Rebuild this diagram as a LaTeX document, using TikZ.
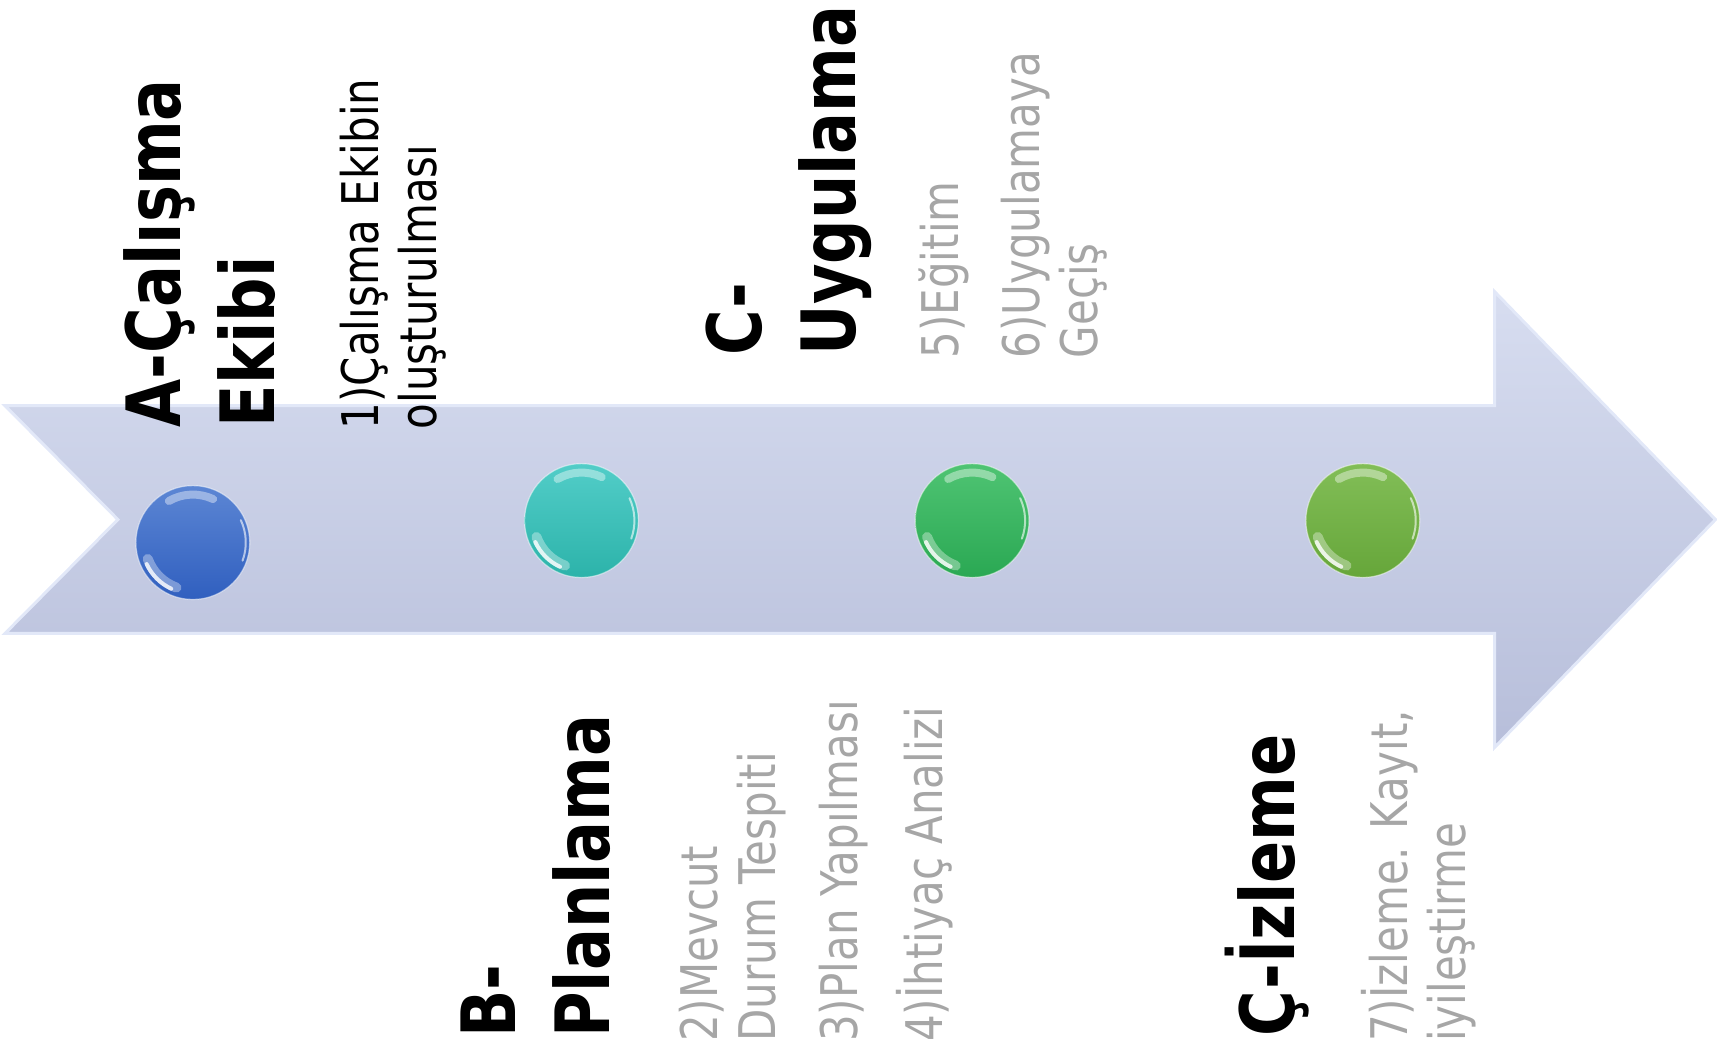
\documentclass[tikz,border=0pt]{standalone}
\usepackage{fontspec}
\setmainfont{DejaVu Sans}[FakeStretch=0.83]
\usepackage{xcolor}
\usepackage{tikz}
\usetikzlibrary{calc,positioning}

\definecolor{arrowtop}{HTML}{D7DDF0}
\definecolor{arrowbot}{HTML}{B7BEDA}
\definecolor{arrowedge}{HTML}{E2E8F8}
\definecolor{taskgray}{HTML}{A6A6A6}
\definecolor{blueTop}{HTML}{5C86D4}
\definecolor{blueBot}{HTML}{305FBF}
\definecolor{tealTop}{HTML}{52CDC8}
\definecolor{tealBot}{HTML}{2CB3AA}
\definecolor{greenTop}{HTML}{4FC473}
\definecolor{greenBot}{HTML}{2AA853}
\definecolor{oliveTop}{HTML}{82BE57}
\definecolor{oliveBot}{HTML}{66A63A}

\begin{document}
\begin{tikzpicture}[
    % GLOBAL CFG
    x=0.5pt, y=-0.5pt,
    % Styles
    phase/.style={% For the bold step titles
        font=\fontsize{37.5pt}{47pt}\selectfont\bfseries,
        rotate=90,
        anchor=north west,
        align=left,
        inner sep=0pt,
        },
    task/.style={% For the numbered tasks
        font=\fontsize{25.3pt}{29pt}\selectfont,
        rotate=90,
        anchor=north west,
        align=left,
        inner sep=0pt,
        text=taskgray,
        },
    dot/.style={% For the glossy buttons on the arrow
        circle,
        minimum size=57pt,
        inner sep=0pt,
        draw=white,
        draw opacity=0.5,
        line width=0.6pt,
        path picture={
            \draw[white, opacity=0.4, line width=4pt, line cap=round]
                ($(path picture bounding box.center)+(65:24pt)$) arc[start angle=65, end angle=120, radius=24pt];
            \draw[white, opacity=0.35, line width=5pt, line cap=round]
                ($(path picture bounding box.center)+(200:24pt)$) arc[start angle=200, end angle=250, radius=24pt];
            \draw[white, opacity=0.8, line width=2pt, line cap=round]
                ($(path picture bounding box.center)+(205:25.5pt)$) arc[start angle=205, end angle=245, radius=25.5pt];
            \draw[white, opacity=0.6, line width=1pt, line cap=round]
                ($(path picture bounding box.center)+(-20:26.5pt)$) arc[start angle=-20, end angle=25, radius=26.5pt];
            },
        },
    ]

    % Draw the big arrow
    \draw[top color=arrowtop, bottom color=arrowbot, draw=arrowedge, line width=1.5pt, line join=miter]
        (5,406) -- (1496,406) -- (1496,292) -- (1717,520) -- (1496,748) -- (1496,634)
        -- (5,634) -- (118,520) -- cycle;

    % Draw the buttons named dot#
    \node[dot, top color=blueTop, bottom color=blueBot] (dot1) at (193,543) {};
    \node[dot, top color=tealTop, bottom color=tealBot] (dot2) at (582,521) {};
    \node[dot, top color=greenTop, bottom color=greenBot] (dot3) at (973,521) {};
    \node[dot, top color=oliveTop, bottom color=oliveBot] (dot4) at (1364,521) {};

    % Titles and tasks above the arrow
    \node[phase] (phaseA) at (123,428) {A-Çalışma\\Ekibi};
    \node[task, text=black] (task1) at (340,430) {1)Çalışma Ekibin\\oluşturulması};
    \node[phase] (phaseC) at (706,356) {C-\\Uygulama};
    \node[task] (task5) at (919,359) {5)Eğitim};
    \node[task] (task6) at (1002,359) {6)Uygulamaya\\Geçiş};

    % Titles and tasks below the arrow
    \node[phase] (phaseB) at (461,1039) {B-\\Planlama};
    \node[task] (task2) at (679,1043) {2)Mevcut\\Durum Tespiti};
    \node[task] (task3) at (819,1043) {3)Plan Yapılması};
    \node[task] (task4) at (897,1043) {4)İhtiyaç Analizi};
    \node[phase] (phaseD) at (1226,1038) {Ç-İzleme};
    \node[task] (task7) at (1362,1043) {7)İzleme. Kayıt,\\iyileştirme};

    \useasboundingbox (0,0) rectangle (1717,1050);
\end{tikzpicture}
\end{document}
